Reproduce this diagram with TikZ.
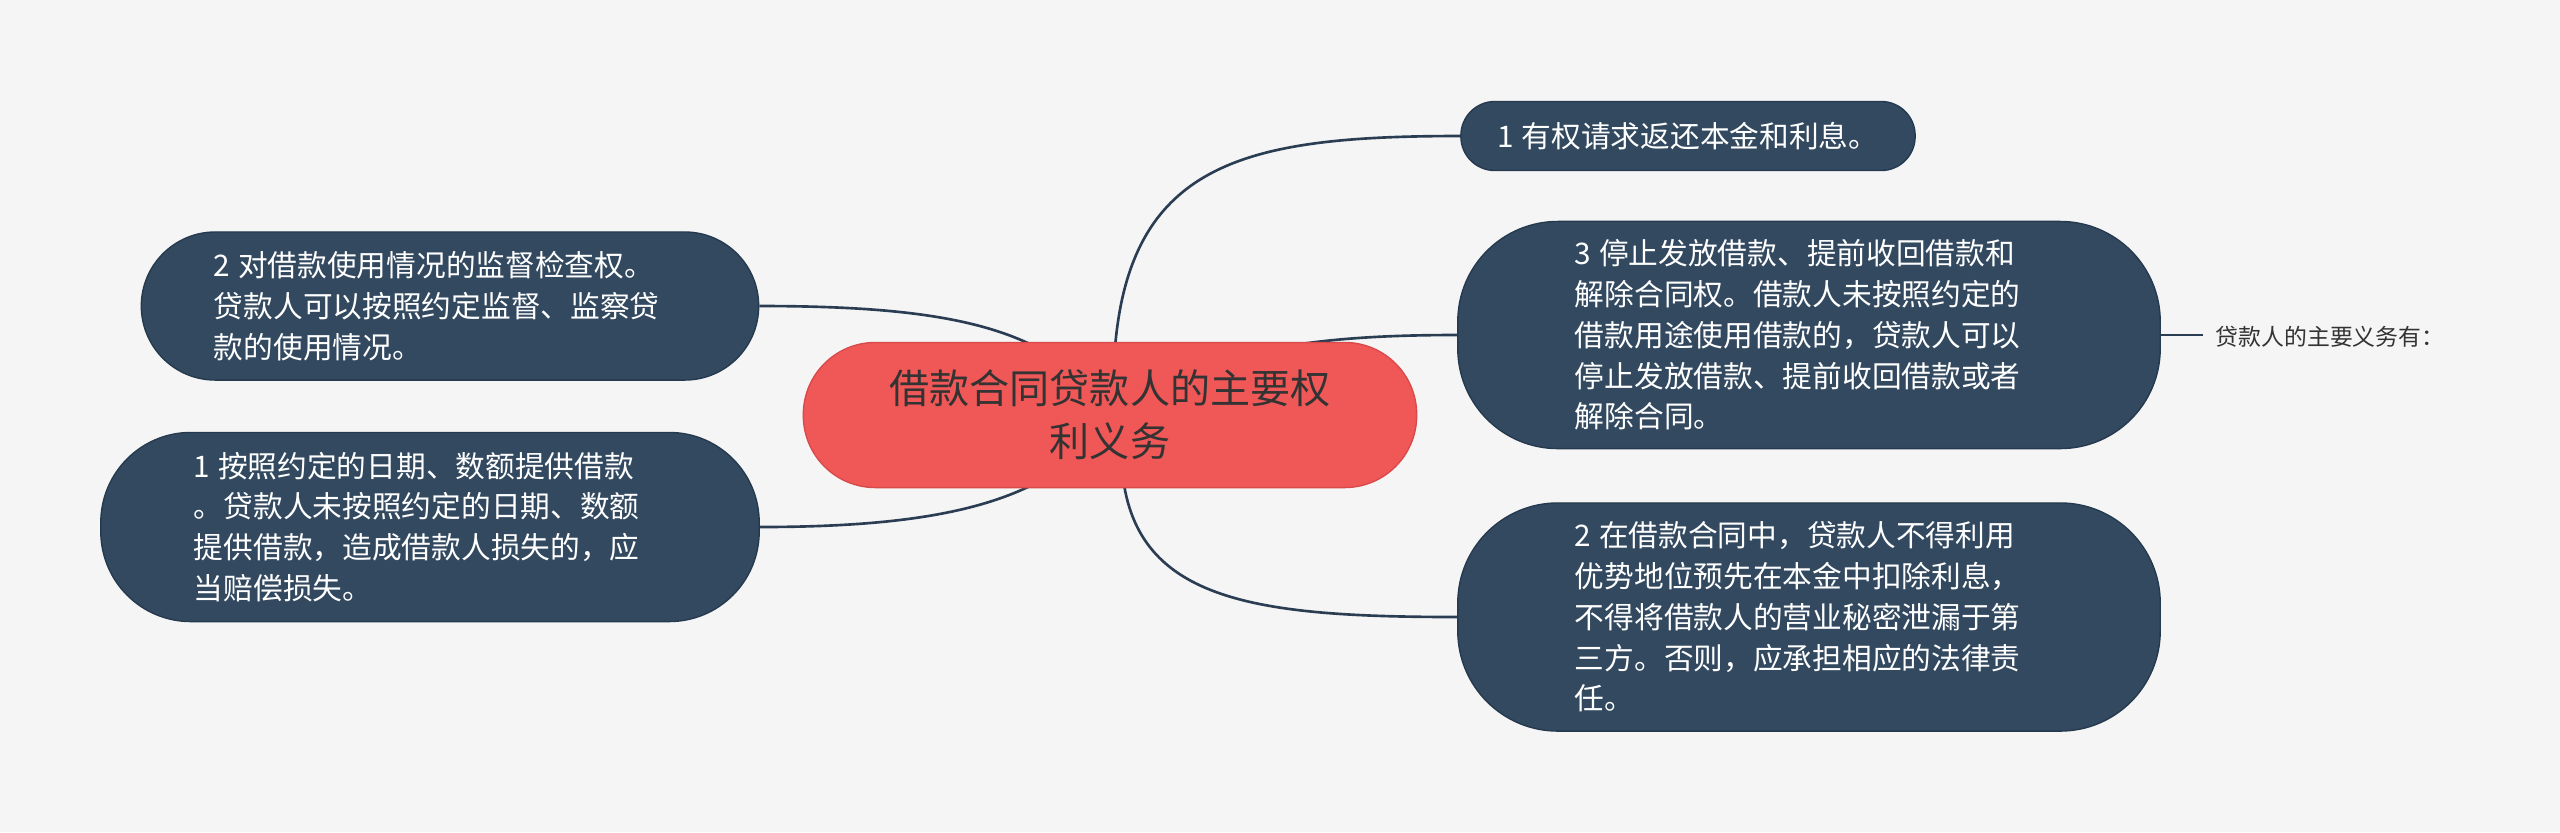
\documentclass[tikz,border=0pt]{standalone}
\usepackage{fontspec}
\setmainfont{Noto Sans CJK SC}
\usetikzlibrary{calc}
\definecolor{bg}{HTML}{F5F5F5}
\definecolor{topicfill}{HTML}{324960}
\definecolor{topicdraw}{HTML}{263A4F}
\definecolor{centerfill}{HTML}{F05757}
\definecolor{centerdraw}{HTML}{D94A4A}
\definecolor{linec}{HTML}{2A3D52}
\definecolor{txt}{HTML}{333333}
\pgfdeclarelayer{bglayer}
\pgfsetlayers{bglayer,main}
\newcommand{\numsp}{\hspace{0.26em}}
\begin{document}
\begin{tikzpicture}[x=0.01cm,y=-0.01cm,
  topic/.style={draw=topicdraw, line width=0.4pt, fill=topicfill, text=white,
    align=left, inner sep=0pt, font=\fontsize{8.45pt}{11.6pt}\selectfont},
  centre/.style={draw=centerdraw, line width=0.4pt, fill=centerfill, text=txt,
    align=center, inner sep=0pt, font=\fontsize{11.4pt}{15pt}\selectfont,
    minimum width=6.13cm, minimum height=1.45cm, rounded corners=0.72cm},
  conn/.style={draw=linec, line width=0.75pt},
  note/.style={text=txt, anchor=west, inner sep=0pt, font=\fontsize{6.5pt}{8pt}\selectfont}]

\useasboundingbox (0,0) rectangle (2560,832);

\node[centre] (c) at (1110,415) {借款合同贷款人的主要权\\利义务};

\node[topic, minimum width=4.54cm, minimum height=0.69cm, rounded corners=0.34cm] (r1) at (1688,136)
  {1\numsp 有权请求返还本金和利息。};

\node[topic, text width=4.68cm, minimum width=7.02cm, minimum height=2.27cm, rounded corners=1.0cm] (r3) at (1809,335)
  {3\numsp 停止发放借款、提前收回借款和\\解除合同权。借款人未按照约定的\\借款用途使用借款的，贷款人可以\\停止发放借款、提前收回借款或者\\解除合同。};

\node[topic, text width=4.68cm, minimum width=7.02cm, minimum height=2.28cm, rounded corners=1.0cm] (r2) at (1809,617)
  {2\numsp 在借款合同中，贷款人不得利用\\优势地位预先在本金中扣除利息，\\不得将借款人的营业秘密泄漏于第\\三方。否则，应承担相应的法律责\\任。};

\node[topic, text width=4.72cm, minimum width=6.17cm, minimum height=1.48cm, rounded corners=0.74cm] (l2) at (450,306)
  {2\numsp 对借款使用情况的监督检查权。\\贷款人可以按照约定监督、监察贷\\款的使用情况。};

\node[topic, text width=4.72cm, minimum width=6.58cm, minimum height=1.89cm, rounded corners=0.9cm] (l1) at (430,527)
  {1\numsp 按照约定的日期、数额提供借款\\。贷款人未按照约定的日期、数额\\提供借款，造成借款人损失的，应\\当赔偿损失。};

\node[note] (lab) at (2215,337) {贷款人的主要义务有：};
\coordinate (labend) at (2203,335);

\begin{pgfonlayer}{bglayer}
  \fill[bg] (0,0) rectangle (2560,832);
  \draw[conn] ($(c.north)+(4,20)$) .. controls (1125,163) and (1241,136) .. (r1.west);
  \draw[conn] ($(c.north east)+(-150,8)$) .. controls (1330,337) and (1400,335) .. (r3.west);
  \draw[conn] ($(c.south)+(12,-20)$) .. controls (1133,600) and (1250,617) .. (r2.west);
  \draw[conn] ($(c.north)+(-65,10)$) .. controls (985,318) and (900,306) .. (l2.east);
  \draw[conn] ($(c.south)+(-65,-10)$) .. controls (985,512) and (900,527) .. (l1.east);
  \draw[conn] (r3.east) -- (labend);
\end{pgfonlayer}
\end{tikzpicture}
\end{document}
